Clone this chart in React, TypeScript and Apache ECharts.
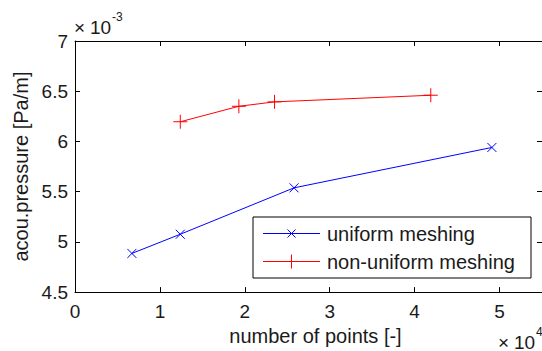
import React, { useEffect, useRef } from 'react';
import * as echarts from 'echarts';

// ---- data (x in units of 10^4 points, y in units of 10^-3 Pa/m) ----
const xTicks = [0, 1, 2, 3, 4, 5];
const yTicks = [4.5, 5, 5.5, 6, 6.5, 7];
const uniformX = [0.67, 1.24, 2.58, 4.91];
const uniformY = [4.885, 5.076, 5.538, 5.94];
const nonUniformX = [1.24, 1.93, 2.35, 4.19];
const nonUniformY = [6.196, 6.35, 6.394, 6.46];
const seriesNames = ['uniform meshing', 'non-uniform meshing'];
const seriesColors = ['#0000ff', '#ff0000'];
const xAxisLabel = 'number of points [-]';
const yAxisLabel = 'acou.pressure [Pa/m]';
const xExponent = '4';
const yExponent = '-3';

const FONT = "'Liberation Sans', Arial, Helvetica, sans-serif";
const TEXT = '#1a1a1a';
const X_MARK = 'path://M0,0L10,10M10,0L0,10';
const PLUS_MARK = 'path://M5,0L5,10M0,5L10,5';

export default function App() {
  const ref = useRef<HTMLDivElement>(null);

  useEffect(() => {
    if (!ref.current) return;
    const chart = echarts.init(ref.current, null, { renderer: 'svg' });

    const gridLeft = 75;
    const gridTop = 41;
    const gridW = 467.5;
    const gridH = 253;

    const axisLine = { show: true, onZero: false, lineStyle: { color: '#000', width: 1 } };
    const tickIn = (vals: number[]) => ({
      show: true,
      inside: true,
      length: 5,
      customValues: vals,
      lineStyle: { color: '#000', width: 1 },
    });

    const legendGraphics: any[] = [
      {
        type: 'rect',
        shape: { x: 253, y: 217, width: 278, height: 61 },
        style: { fill: '#fff', stroke: '#000', lineWidth: 1 },
        z: 100,
      },
    ];
    const rowY = [233.5, 261.5];
    seriesNames.forEach((name, i) => {
      const y = rowY[i];
      const c = seriesColors[i];
      legendGraphics.push({
        type: 'line',
        shape: { x1: 263, y1: y, x2: 320, y2: y },
        style: { stroke: c, lineWidth: 1 },
        z: 101,
      });
      if (i === 0) {
        legendGraphics.push(
          { type: 'line', shape: { x1: 287.5, y1: y - 4, x2: 295.5, y2: y + 4 }, style: { stroke: c, lineWidth: 1 }, z: 101 },
          { type: 'line', shape: { x1: 287.5, y1: y + 4, x2: 295.5, y2: y - 4 }, style: { stroke: c, lineWidth: 1 }, z: 101 }
        );
      } else {
        legendGraphics.push(
          { type: 'line', shape: { x1: 291.5, y1: y - 7, x2: 291.5, y2: y + 7 }, style: { stroke: c, lineWidth: 1 }, z: 101 },
          { type: 'line', shape: { x1: 284.5, y1: y, x2: 298.5, y2: y }, style: { stroke: c, lineWidth: 1 }, z: 101 }
        );
      }
      legendGraphics.push({
        type: 'text',
        x: 327,
        y: y,
        style: { text: name, font: `20px ${FONT}`, fill: TEXT, verticalAlign: 'middle', align: 'left' },
        z: 101,
      });
    });

    const exponentText = (x: number, y: number, exp: string) => [
      {
        type: 'text',
        x: x,
        y: y,
        style: { text: '×', font: `19px ${FONT}`, fill: TEXT, verticalAlign: 'middle', align: 'left' },
      },
      {
        type: 'text',
        x: x + 16,
        y: y,
        style: { text: '10', font: `19px ${FONT}`, fill: TEXT, verticalAlign: 'middle', align: 'left' },
      },
      {
        type: 'text',
        x: x + 38,
        y: y - 10,
        style: { text: exp, font: `12px ${FONT}`, fill: TEXT, verticalAlign: 'middle', align: 'left' },
      },
    ];

    const option: any = {
      animation: false,
      backgroundColor: '#fff',
      grid: { left: gridLeft, top: gridTop, width: gridW, height: gridH, containLabel: false },
      xAxis: [
        {
          type: 'value',
          min: 0,
          max: 5.5,
          interval: 1,
          position: 'bottom',
          axisLine,
          axisTick: tickIn(xTicks),
          axisLabel: {
            show: true,
            customValues: xTicks,
            margin: 10,
            fontSize: 19,
            fontFamily: FONT,
            color: TEXT,
          },
          splitLine: { show: false },
          name: xAxisLabel,
          nameLocation: 'middle',
          nameGap: 28,
          nameTextStyle: { fontSize: 20, fontFamily: FONT, color: TEXT, padding: [0, 0, 0, 14] },
        },
        {
          type: 'value',
          min: 0,
          max: 5.5,
          interval: 1,
          position: 'top',
          axisLine,
          axisTick: tickIn(xTicks),
          axisLabel: { show: false },
          splitLine: { show: false },
        },
      ],
      yAxis: [
        {
          type: 'value',
          min: 4.5,
          max: 7,
          interval: 0.5,
          position: 'left',
          axisLine,
          axisTick: tickIn(yTicks),
          axisLabel: {
            show: true,
            customValues: yTicks,
            margin: 7,
            fontSize: 19,
            fontFamily: FONT,
            color: TEXT,
          },
          splitLine: { show: false },
          name: yAxisLabel,
          nameLocation: 'middle',
          nameGap: 36,
          nameTextStyle: { fontSize: 20, fontFamily: FONT, color: TEXT },
        },
        {
          type: 'value',
          min: 4.5,
          max: 7,
          interval: 0.5,
          position: 'right',
          axisLine,
          axisTick: tickIn(yTicks),
          axisLabel: { show: false },
          splitLine: { show: false },
        },
      ],
      series: [
        {
          name: seriesNames[0],
          type: 'line',
          data: uniformX.map((x, i) => [x, uniformY[i]]),
          symbol: X_MARK,
          symbolSize: 9,
          showSymbol: true,
          lineStyle: { color: seriesColors[0], width: 1 },
          itemStyle: { color: seriesColors[0], borderColor: seriesColors[0], borderWidth: 1 },
          emphasis: { disabled: true },
          z: 3,
        },
        {
          name: seriesNames[1],
          type: 'line',
          data: nonUniformX.map((x, i) => [x, nonUniformY[i]]),
          symbol: PLUS_MARK,
          symbolSize: 14,
          showSymbol: true,
          lineStyle: { color: seriesColors[1], width: 1 },
          itemStyle: { color: seriesColors[1], borderColor: seriesColors[1], borderWidth: 1 },
          emphasis: { disabled: true },
          z: 3,
        },
      ],
      graphic: [
        ...exponentText(74, 27, yExponent),
        ...exponentText(498, 342, xExponent),
        ...legendGraphics,
      ],
    };

    chart.setOption(option);
    return () => chart.dispose();
  }, []);

  return (
    <div
      ref={ref}
      style={{ width: 542, height: 351, position: 'absolute', left: 0, top: 0, background: '#fff' }}
    />
  );
}
